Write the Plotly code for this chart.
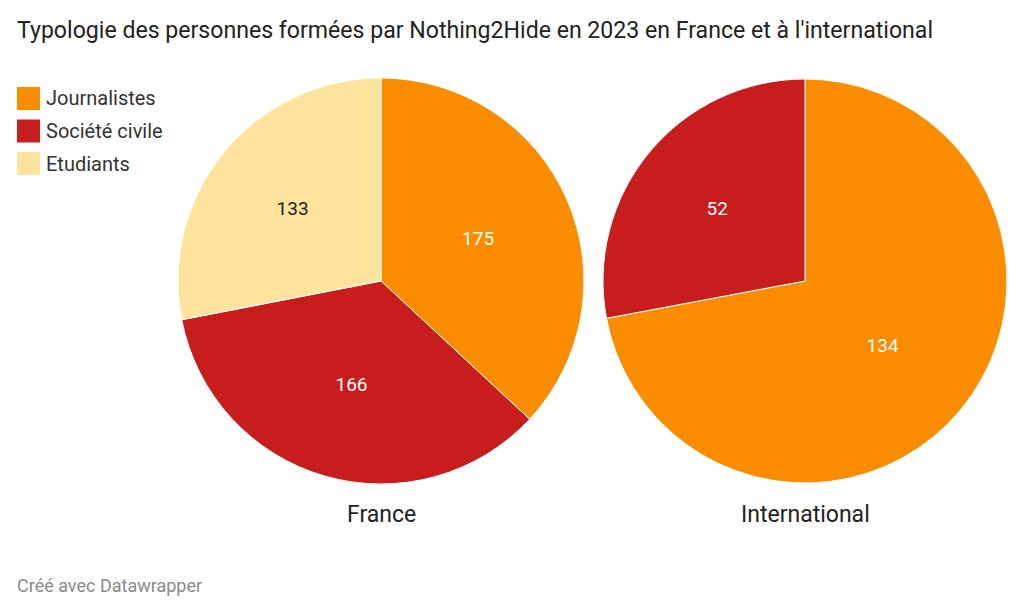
import plotly.graph_objects as go

categories = ["Journalistes", "Société civile", "Etudiants"]
france_values = [175, 166, 133]
international_values = [134, 52, 0]
group_names = ["France", "International"]
colors = ["#fa8c00", "#c71e1d", "#fee39c"]
text_colors = ["#ffffff", "#ffffff", "#222222"]

W, H = 1024, 614

def px_x(v):
    return v / W

def px_y(v):
    return 1 - v / H

fig = go.Figure()

domains = [
    (178, 584),
    (603, 1007),
]

for name, vals, (x0, x1) in zip(group_names, [france_values, international_values], domains):
    labs = [c for c, v in zip(categories, vals) if v]
    vs = [v for v in vals if v]
    cols = [c for c, v in zip(colors, vals) if v]
    tcols = [c for c, v in zip(text_colors, vals) if v]
    fig.add_trace(go.Pie(
        labels=labs,
        values=vs,
        sort=False,
        direction="clockwise",
        rotation=0,
        marker=dict(colors=cols, line=dict(color="#ffffff", width=1)),
        textinfo="value",
        textposition="inside",
        insidetextorientation="horizontal",
        insidetextfont=dict(color=tcols, size=19, family="Roboto"),
        showlegend=False,
        hoverinfo="label+value",
        domain=dict(x=[px_x(x0), px_x(x1)], y=[px_y(484), px_y(78)]),
    ))
    fig.add_annotation(
        text=name, x=px_x((x0 + x1) / 2), y=px_y(514), xref="paper", yref="paper",
        xanchor="center", yanchor="middle", showarrow=False,
        font=dict(size=23, color="#222222", family="Roboto"),
    )

# Legend built from shapes + annotations
for i, (cat, col) in enumerate(zip(categories, colors)):
    yc = 98.5 + i * 32.5
    fig.add_shape(type="rect", xref="paper", yref="paper",
                  x0=px_x(17), x1=px_x(40), y0=px_y(yc + 11.5), y1=px_y(yc - 11.5),
                  fillcolor=col, line=dict(width=0))
    fig.add_annotation(text=cat, x=px_x(44), y=px_y(yc), xref="paper", yref="paper",
                       xanchor="left", yanchor="middle", showarrow=False,
                       font=dict(size=20, color="#333333", family="Roboto"))

fig.add_annotation(
    text="Typologie des personnes formées par Nothing2Hide en 2023 en France et à l'international",
    x=px_x(15), y=px_y(30), xref="paper", yref="paper", xanchor="left", yanchor="middle",
    showarrow=False, font=dict(size=23.1, color="#222222", family="Roboto"),
)
fig.add_annotation(
    text="Créé avec Datawrapper",
    x=px_x(15), y=px_y(585), xref="paper", yref="paper", xanchor="left", yanchor="middle",
    showarrow=False, font=dict(size=18, color="#8a8a8a", family="Roboto"),
)

fig.update_layout(
    width=W, height=H,
    margin=dict(l=0, r=0, t=0, b=0),
    paper_bgcolor="#ffffff",
    plot_bgcolor="#ffffff",
    font=dict(family="Roboto"),
)

fig.write_html("out.html", config={"displayModeBar": False},
               post_script="document.body.style.margin='0';document.body.style.padding='0';")
